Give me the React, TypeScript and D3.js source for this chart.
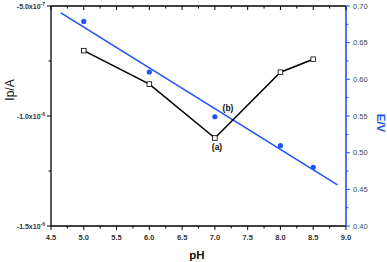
import { useEffect, useRef } from "react";
import * as d3 from "d3";

const phValues = [5.0, 6.0, 7.0, 8.0, 8.5];
const currentValues = [-7.03e-7, -8.55e-7, -1.1e-6, -8.01e-7, -7.42e-7];
const potentialValues = [0.679, 0.61, 0.549, 0.5095, 0.48];
const fitRange = [4.65, 8.87];
const phTicks = [4.5, 5.0, 5.5, 6.0, 6.5, 7.0, 7.5, 8.0, 8.5, 9.0];
const currentTicks = [
  { v: -5e-7, m: "-5.0x10", e: "-7" },
  { v: -1e-6, m: "-1.0x10", e: "-6" },
  { v: -1.5e-6, m: "-1.5x10", e: "-6" },
];
const potentialTicks = [0.4, 0.45, 0.5, 0.55, 0.6, 0.65, 0.7];

export default function App() {
  const ref = useRef<SVGSVGElement>(null);

  useEffect(() => {
    const svg = d3.select(ref.current);
    svg.selectAll("*").remove();

    const width = 387;
    const height = 262;
    const margin = { top: 6, right: 41, bottom: 36, left: 51 };
    const blue = "#2253f7";
    const font = "'Liberation Sans', Arial, sans-serif";

    svg.attr("width", width).attr("height", height).style("font-family", font);

    const x = d3.scaleLinear().domain([4.5, 9.0]).range([margin.left, width - margin.right]);
    const yL = d3.scaleLinear().domain([-1.5e-6, -5e-7]).range([height - margin.bottom, margin.top]);
    const yR = d3.scaleLinear().domain([0.4, 0.7]).range([height - margin.bottom, margin.top]);

    const x0 = margin.left, x1 = width - margin.right;
    const y0 = height - margin.bottom, y1 = margin.top;

    // frame
    svg.append("line").attr("x1", x0).attr("x2", x1).attr("y1", y1).attr("y2", y1).attr("stroke", "#000").attr("stroke-width", 1.3);
    svg.append("line").attr("x1", x0).attr("x2", x1).attr("y1", y0).attr("y2", y0).attr("stroke", "#000").attr("stroke-width", 1.3);
    svg.append("line").attr("x1", x0).attr("x2", x0).attr("y1", y1).attr("y2", y0).attr("stroke", "#000").attr("stroke-width", 1.3);
    svg.append("line").attr("x1", x1).attr("x2", x1).attr("y1", y1).attr("y2", y0).attr("stroke", blue).attr("stroke-width", 1.6);

    // bottom ticks (out) + top ticks (in)
    const minorX = d3.range(4.75, 9.0, 0.5);
    phTicks.forEach(t => {
      svg.append("line").attr("x1", x(t)).attr("x2", x(t)).attr("y1", y0).attr("y2", y0 + 4).attr("stroke", "#000");
      svg.append("line").attr("x1", x(t)).attr("x2", x(t)).attr("y1", y1).attr("y2", y1 + 4).attr("stroke", "#000");
      svg.append("text").attr("x", x(t)).attr("y", y0 + 14).attr("text-anchor", "middle")
        .attr("font-size", 7.5).attr("font-weight", "bold").attr("fill", "#333").text(t.toFixed(1));
    });
    minorX.forEach(t => {
      svg.append("line").attr("x1", x(t)).attr("x2", x(t)).attr("y1", y0).attr("y2", y0 + 2.5).attr("stroke", "#000");
      svg.append("line").attr("x1", x(t)).attr("x2", x(t)).attr("y1", y1).attr("y2", y1 + 2.5).attr("stroke", "#000");
    });

    // left axis
    currentTicks.forEach(t => {
      svg.append("line").attr("x1", x0 - 4).attr("x2", x0).attr("y1", yL(t.v)).attr("y2", yL(t.v)).attr("stroke", "#000");
      const tx = svg.append("text").attr("x", x0 - 6).attr("y", yL(t.v) + 2.5).attr("text-anchor", "end")
        .attr("font-size", 7).attr("font-weight", "bold").attr("fill", "#333");
      tx.append("tspan").text(t.m);
      tx.append("tspan").attr("dy", -3).attr("font-size", 5).text(t.e);
    });
    [-7.5e-7, -1.25e-6].forEach(v => {
      svg.append("line").attr("x1", x0 - 2.5).attr("x2", x0).attr("y1", yL(v)).attr("y2", yL(v)).attr("stroke", "#000");
    });

    // right axis
    potentialTicks.forEach(t => {
      svg.append("line").attr("x1", x1).attr("x2", x1 + 4).attr("y1", yR(t)).attr("y2", yR(t)).attr("stroke", blue);
      svg.append("text").attr("x", x1 + 7).attr("y", yR(t) + 2.5)
        .attr("font-size", 7.5).attr("fill", "#3a4660").text(t.toFixed(2));
    });
    d3.range(0.425, 0.7, 0.05).forEach(t => {
      svg.append("line").attr("x1", x1).attr("x2", x1 + 2.5).attr("y1", yR(t)).attr("y2", yR(t)).attr("stroke", blue);
    });

    // axis titles
    svg.append("text").attr("transform", `translate(14,90) rotate(-90)`).attr("text-anchor", "middle")
      .attr("font-size", 12).attr("fill", "#111").text("Ip/A");
    svg.append("text").attr("transform", `translate(377,123) rotate(90)`).attr("text-anchor", "middle")
      .attr("font-size", 11.5).attr("font-weight", "bold").attr("fill", blue).text("E/V");
    svg.append("text").attr("x", 197).attr("y", 259).attr("text-anchor", "middle")
      .attr("font-size", 11.5).attr("font-weight", "bold").attr("fill", "#111").text("pH");

    // least-squares fit of E vs pH
    const mx = d3.mean(phValues)!;
    const my = d3.mean(potentialValues)!;
    const sxy = d3.sum(phValues, (p, i) => (p - mx) * (potentialValues[i] - my));
    const sxx = d3.sum(phValues, p => (p - mx) ** 2);
    const slope = sxy / sxx;
    const fit = (p: number) => my + slope * (p - mx);
    svg.append("line")
      .attr("x1", x(fitRange[0])).attr("y1", yR(fit(fitRange[0])))
      .attr("x2", x(fitRange[1])).attr("y2", yR(fit(fitRange[1])))
      .attr("stroke", blue).attr("stroke-width", 1.6);

    // current line
    const line = d3.line<number>().x((_, i) => x(phValues[i])).y(d => yL(d));
    svg.append("path").datum(currentValues).attr("d", line).attr("fill", "none")
      .attr("stroke", "#000").attr("stroke-width", 1.5);
    svg.selectAll("rect.pt").data(currentValues).join("rect")
      .attr("x", (_, i) => x(phValues[i]) - 2.3).attr("y", d => yL(d) - 2.3)
      .attr("width", 4.6).attr("height", 4.6).attr("fill", "#fff").attr("stroke", "#000").attr("stroke-width", 0.8);

    // potential points
    svg.selectAll("circle.pt").data(potentialValues).join("circle")
      .attr("cx", (_, i) => x(phValues[i])).attr("cy", d => yR(d)).attr("r", 2.6).attr("fill", blue);

    // annotations
    svg.append("text").attr("x", 217).attr("y", 150).attr("text-anchor", "middle")
      .attr("font-size", 8.5).attr("font-weight", "bold").attr("fill", "#111").text("(a)");
    svg.append("text").attr("x", 228).attr("y", 111).attr("text-anchor", "middle")
      .attr("font-size", 8.5).attr("font-weight", "bold").attr("fill", "#111").text("(b)");
  }, []);

  return <svg ref={ref} style={{ position: "absolute", left: 0, top: 0 }}></svg>;
}
